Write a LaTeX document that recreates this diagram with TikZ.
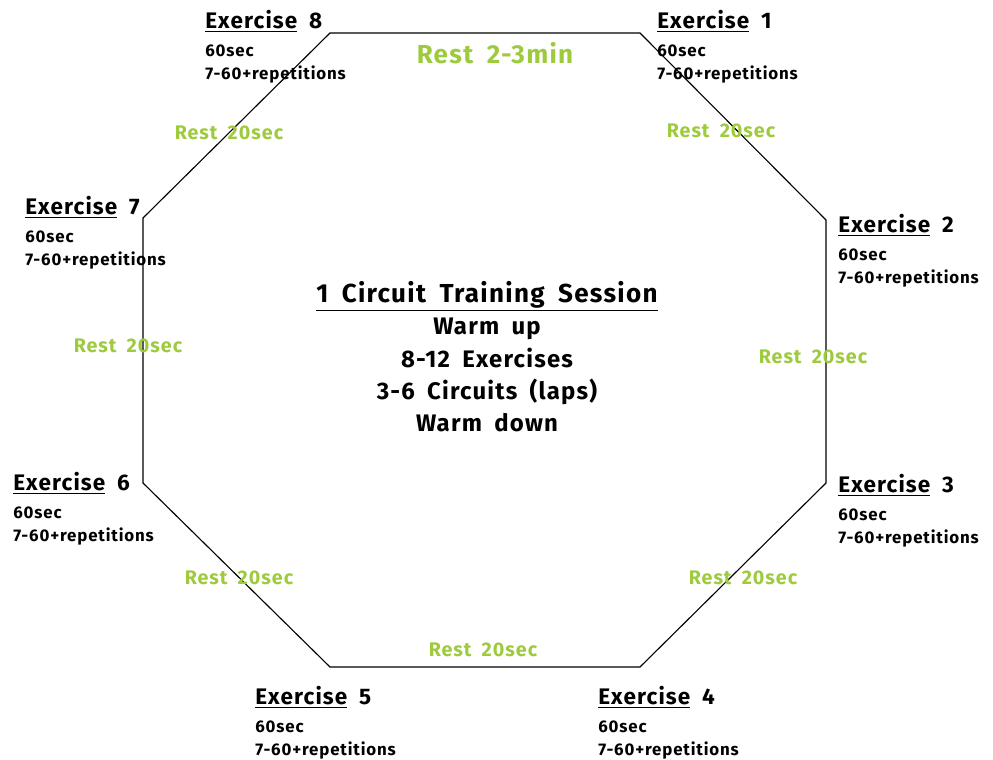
\documentclass[tikz,border=0pt]{standalone}
\usepackage{fontspec}
\setmainfont{Fira Sans}[LetterSpace=5, WordSpace=1.8]
\usepackage{xcolor}
\usetikzlibrary{positioning}

\definecolor{restgreen}{RGB}{158,202,62}
\newcommand{\exhead}[1]{{\fontsize{16}{20}\selectfont\underline{Exercise} #1}}

\tikzset{
  exbox/.style={anchor=north west, align=left, inner sep=0pt,
    font=\bfseries\fontsize{12}{16.5}\selectfont},
  restlbl/.style={text=restgreen, inner sep=1pt,
    font=\bfseries\fontsize{14}{16}\selectfont},
  ring/.style={line width=0.8pt, line join=miter}
}

\begin{document}
\begin{tikzpicture}[x=0.025cm, y=-0.025cm]
  \useasboundingbox (0,0) rectangle (993,760);
  % octagon corners
  \coordinate (c1) at (330,33);
  \coordinate (c2) at (640,33);
  \coordinate (c3) at (826,220);
  \coordinate (c4) at (826,483);
  \coordinate (c5) at (640,667);
  \coordinate (c6) at (330,667);
  \coordinate (c7) at (143,483);
  \coordinate (c8) at (143,218);
  \draw[ring] (c1) -- (c2) -- (c3) -- (c4) -- (c5) -- (c6) -- (c7) -- (c8) -- cycle;

  % exercises
  \node[exbox] (ex1) at (657,10) {\exhead{1}\\[3.5pt]60sec\\7-60+repetitions};
  \node[exbox] (ex2) at (838,214) {\exhead{2}\\[3.5pt]60sec\\7-60+repetitions};
  \node[exbox] (ex3) at (838,474) {\exhead{3}\\[3.5pt]60sec\\7-60+repetitions};
  \node[exbox] (ex4) at (598,686) {\exhead{4}\\[3.5pt]60sec\\7-60+repetitions};
  \node[exbox] (ex5) at (255,686) {\exhead{5}\\[3.5pt]60sec\\7-60+repetitions};
  \node[exbox] (ex6) at (13,472) {\exhead{6}\\[3.5pt]60sec\\7-60+repetitions};
  \node[exbox] (ex7) at (25,196) {\exhead{7}\\[3.5pt]60sec\\7-60+repetitions};
  \node[exbox] (ex8) at (205,10) {\exhead{8}\\[3.5pt]60sec\\7-60+repetitions};

  % rests
  \node[restlbl, font=\bfseries\fontsize{18.5}{20}\selectfont] (rlong) at (495,53) {Rest 2-3min};
  \node[restlbl] (r12) at (721,131) {Rest 20sec};
  \node[restlbl] (r23) at (813,357) {Rest 20sec};
  \node[restlbl] (r34) at (743,578) {Rest 20sec};
  \node[restlbl] (r45) at (483,650) {Rest 20sec};
  \node[restlbl] (r56) at (239,578) {Rest 20sec};
  \node[restlbl] (r67) at (128,346) {Rest 20sec};
  \node[restlbl] (r78) at (229,133) {Rest 20sec};

  % session summary
  \node[align=center, anchor=north, inner sep=0pt,
    font=\bfseries\fontsize{17}{23}\selectfont] (session) at (487,281)
    {{\fontsize{18.5}{23}\selectfont\underline{1 Circuit Training Session}}\\
     Warm up\\8-12 Exercises\\3-6 Circuits (laps)\\Warm down};
\end{tikzpicture}
\end{document}
